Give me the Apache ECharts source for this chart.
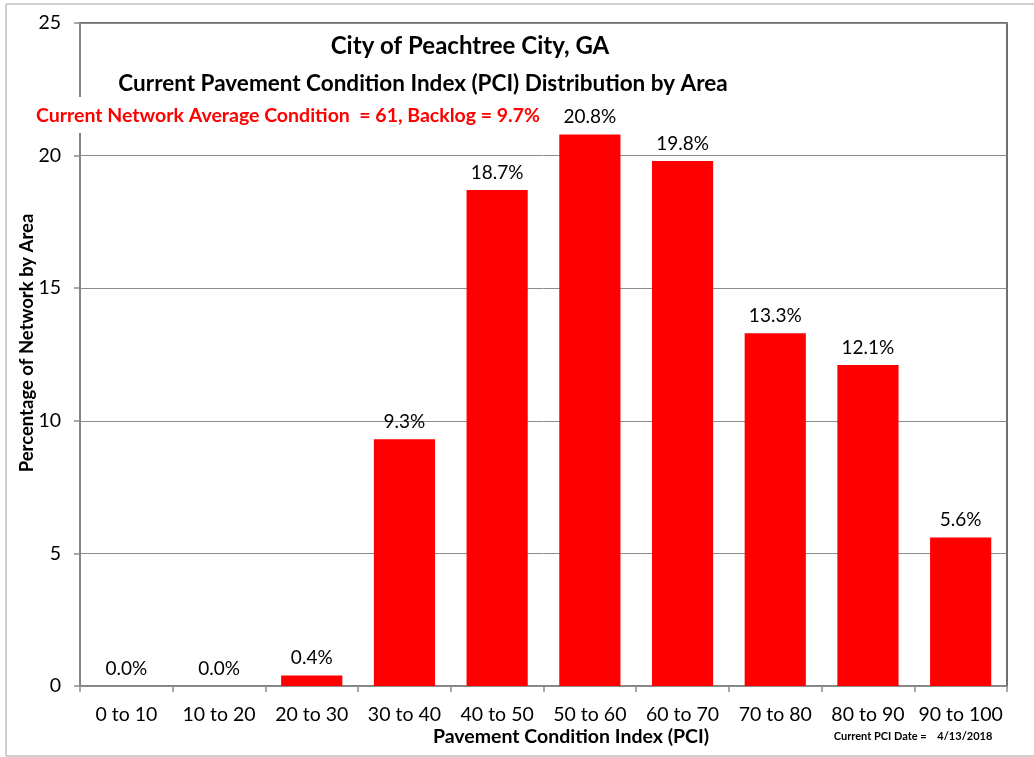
<!DOCTYPE html>
<html>
<head>
<meta charset="utf-8">
<script src="https://cdn.jsdelivr.net/npm/echarts@6/dist/echarts.min.js"></script>
<style>
html, body { margin: 0; padding: 0; background: #fff; }
#chart { width: 1034px; height: 757px; }
</style>
</head>
<body>
<div id="chart"></div>
<script>
// PCI ranges and share of network area (%)
var categories = ['0 to 10', '10 to 20', '20 to 30', '30 to 40', '40 to 50',
                  '50 to 60', '60 to 70', '70 to 80', '80 to 90', '90 to 100'];
var percentArea = [0.0, 0.0, 0.4, 9.3, 18.7, 20.8, 19.8, 13.3, 12.1, 5.6];
var yTicks = [0, 5, 10, 15, 20, 25];

var font = 'Lato, "Open Sans", sans-serif';

var myChart = echarts.init(document.getElementById('chart'));

var option = {
    backgroundColor: '#fff',
    animation: false,
    grid: {
        left: 80,
        right: 27,
        top: 23,
        bottom: 71,
        show: true,
        borderColor: '#404040',
        borderWidth: 1.5,
        backgroundColor: '#fff'
    },
    xAxis: {
        type: 'category',
        data: categories,
        axisLine: { lineStyle: { color: '#8c8c8c', width: 1.5 } },
        axisTick: { show: true, length: 6, lineStyle: { color: '#8c8c8c', width: 1.5 } },
        axisLabel: { color: '#000', fontSize: 19.5, fontFamily: font, margin: 19, interval: 0 }
    },
    yAxis: {
        type: 'value',
        min: yTicks[0],
        max: yTicks[yTicks.length - 1],
        interval: 5,
        axisLine: { show: true, lineStyle: { color: '#8c8c8c', width: 1.5 } },
        axisTick: { show: true, length: 6, lineStyle: { color: '#8c8c8c', width: 1.5 } },
        axisLabel: { color: '#000', fontSize: 19.5, fontFamily: font, margin: 19 },
        splitLine: { show: true, lineStyle: { color: '#8c8c8c', width: 1 } }
    },
    series: [
        {
            type: 'bar',
            data: percentArea,
            barCategoryGap: '34%',
            itemStyle: { color: '#ff0000' },
            label: {
                show: true,
                position: 'top',
                distance: 8,
                color: '#000',
                fontSize: 19,
                fontFamily: font,
                formatter: function (p) { return p.value.toFixed(1) + '%'; }
            }
        }
    ],
    graphic: [
        // white box behind the red note, covers the axis line
        { type: 'rect', shape: { x: 30, y: 97, width: 516, height: 36 }, style: { fill: '#fff' }, z: 100 },
        { type: 'text', x: 470, y: 46, z: 101,
          style: { text: 'City of Peachtree City, GA', font: 'bold 24px ' + font, fill: '#000', align: 'center', verticalAlign: 'middle' } },
        { type: 'text', x: 423, y: 84, z: 101,
          style: { text: 'Current Pavement Condition Index (PCI) Distribution by Area', font: 'bold 22.5px ' + font, fill: '#000', align: 'center', verticalAlign: 'middle' } },
        { type: 'text', x: 288, y: 116, z: 101,
          style: { text: 'Current Network Average Condition  = 61, Backlog = 9.7%', font: 'bold 19.5px ' + font, fill: '#ff0000', align: 'center', verticalAlign: 'middle' } },
        { type: 'text', x: 27, y: 343, rotation: Math.PI / 2, z: 101,
          style: { text: 'Percentage of Network by Area', font: 'bold 18.5px ' + font, fill: '#000', align: 'center', verticalAlign: 'middle' } },
        { type: 'text', x: 571, y: 737, z: 101,
          style: { text: 'Pavement Condition Index (PCI)', font: 'bold 19.5px ' + font, fill: '#000', align: 'center', verticalAlign: 'middle' } },
        { type: 'text', x: 913, y: 736, z: 101,
          style: { text: 'Current PCI Date =    4/13/2018', font: 'bold 11px ' + font, fill: '#000', align: 'center', verticalAlign: 'middle' } },
        // light outer frame
        { type: 'rect', shape: { x: 6, y: 4, width: 1040, height: 752 }, style: { fill: 'none', stroke: '#a0a0a0', lineWidth: 1 }, z: 102 }
    ]
};
myChart.setOption(option);
</script>
</body>
</html>
